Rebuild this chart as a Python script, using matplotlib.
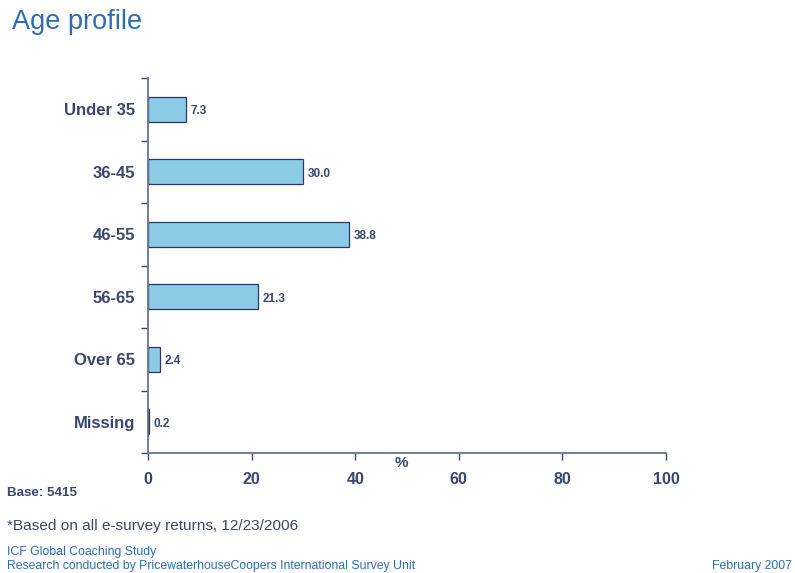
import matplotlib
matplotlib.use("Agg")
import matplotlib.pyplot as plt
import numpy as np

plt.rcParams["font.family"] = ["Liberation Sans", "DejaVu Sans"]

categories = ["Under 35", "36-45", "46-55", "56-65", "Over 65", "Missing"]
values = [7.3, 30.0, 38.8, 21.3, 2.4, 0.2]
x_ticks = [0, 20, 40, 60, 80, 100]

NAVY = "#3a4670"
EDGE = "#2b3566"
FILL = "#8ccbe6"
BLUE = "#2f6db3"

fig = plt.figure(figsize=(7.95, 5.73), dpi=100)
ax = fig.add_axes([148 / 795, 1 - 453 / 573, 518 / 795, 375 / 573])

pos = np.arange(len(categories))
ax.barh(pos, values, height=0.4, color=FILL, edgecolor=EDGE, linewidth=0.9)
for p, v in zip(pos, values):
    ax.text(v + 0.9, p + 0.03, f"{v:.1f}", va="center", ha="left",
            fontsize=8.5, fontweight="bold", color=NAVY)

ax.set_xlim(0, 100)
ax.set_ylim(len(categories) - 0.5, -0.5)
ax.set_xticks(x_ticks)
ax.set_xticklabels([str(t) for t in x_ticks], fontsize=11.5,
                   fontweight="bold", color=NAVY)
ax.set_yticks(pos)
ax.set_yticklabels(categories, fontsize=12, fontweight="bold", color=NAVY)
ax.set_yticks(np.arange(-0.5, len(categories)), minor=True)
ax.tick_params(axis="y", which="major", length=0, pad=9)
ax.tick_params(axis="y", which="minor", length=5, color=NAVY, width=1)
ax.tick_params(axis="x", length=5, color=NAVY, width=1, pad=9)

for s in ["top", "right"]:
    ax.spines[s].set_visible(False)
for s in ["left", "bottom"]:
    ax.spines[s].set_color("#6a7390")
    ax.spines[s].set_linewidth(1.3)
    ax.spines[s].set_zorder(3)

# "%" unit label sits just under the x axis, between 40 and 60
ax.text(49, -0.008, "%", transform=ax.get_xaxis_transform(), ha="center",
        va="top", fontsize=11, fontweight="bold", color=NAVY)

fig.text(12 / 795, 1 - 22 / 573, "Age profile", fontsize=19.5, color=BLUE,
         va="center", ha="left")
fig.text(7 / 795, 1 - 493 / 573, "Base: 5415", fontsize=9.6, fontweight="bold",
         color=NAVY, va="center", ha="left")
fig.text(7 / 795, 1 - 526 / 573, "*Based on all e-survey returns, 12/23/2006",
         fontsize=11.1, color=NAVY, va="center", ha="left")
fig.text(7 / 795, 1 - 552 / 573, "ICF Global Coaching Study", fontsize=8.8,
         color=BLUE, va="center", ha="left")
fig.text(7 / 795, 1 - 566 / 573,
         "Research conducted by PricewaterhouseCoopers International Survey Unit",
         fontsize=8.8, color=BLUE, va="center", ha="left")
fig.text(792 / 795, 1 - 566 / 573, "February 2007", fontsize=8.8, color=BLUE,
         va="center", ha="right")

fig.savefig("out.png", dpi=100)
